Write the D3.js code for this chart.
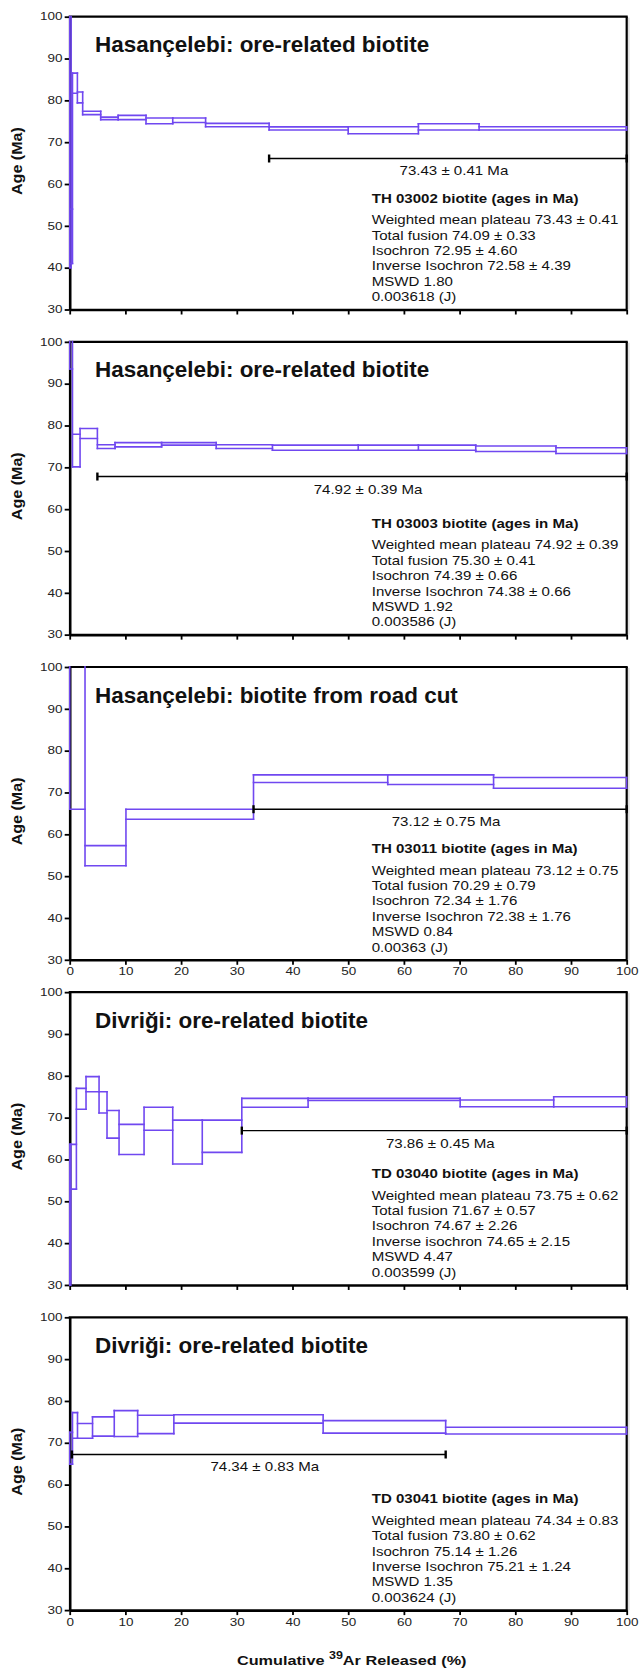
<!DOCTYPE html>
<html>
<head>
<meta charset="utf-8">
<script src="https://cdnjs.cloudflare.com/ajax/libs/d3/7.8.5/d3.min.js"></script>
<style>
  body { margin: 0; background: #fff; }
  svg { display: block; font-family: "Liberation Sans", Arial, sans-serif; }
</style>
</head>
<body>
<div id="chart"></div>
<script>
// tick values
const xTickValues = [0, 10, 20, 30, 40, 50, 60, 70, 80, 90, 100];
const yTickValues = [30, 40, 50, 60, 70, 80, 90, 100];

const titles = [
  "Hasançelebi: ore-related biotite",
  "Hasançelebi: ore-related biotite",
  "Hasançelebi: biotite from road cut",
  "Divriği: ore-related biotite",
  "Divriği: ore-related biotite"
];
const headers = [
  "TH 03002 biotite (ages in Ma)",
  "TH 03003 biotite (ages in Ma)",
  "TH 03011 biotite (ages in Ma)",
  "TD 03040 biotite (ages in Ma)",
  "TD 03041 biotite (ages in Ma)"
];
const statsTH03002 = ["Weighted mean plateau 73.43 ± 0.41", "Total fusion 74.09 ± 0.33", "Isochron 72.95 ± 4.60", "Inverse Isochron 72.58 ± 4.39", "MSWD 1.80", "0.003618 (J)"];
const statsTH03003 = ["Weighted mean plateau 74.92 ± 0.39", "Total fusion 75.30 ± 0.41", "Isochron 74.39 ± 0.66", "Inverse Isochron 74.38 ± 0.66", "MSWD 1.92", "0.003586 (J)"];
const statsTH03011 = ["Weighted mean plateau 73.12 ± 0.75", "Total fusion 70.29 ± 0.79", "Isochron 72.34 ± 1.76", "Inverse Isochron 72.38 ± 1.76", "MSWD 0.84", "0.00363 (J)"];
const statsTD03040 = ["Weighted mean plateau 73.75 ± 0.62", "Total fusion 71.67 ± 0.57", "Isochron 74.67 ± 2.26", "Inverse isochron 74.65 ± 2.15", "MSWD 4.47", "0.003599 (J)"];
const statsTD03041 = ["Weighted mean plateau 74.34 ± 0.83", "Total fusion 73.80 ± 0.62", "Isochron 75.14 ± 1.26", "Inverse Isochron 75.21 ± 1.24", "MSWD 1.35", "0.003624 (J)"];

const plateauLabels = ["73.43 ± 0.41 Ma", "74.92 ± 0.39 Ma", "73.12 ± 0.75 Ma", "73.86 ± 0.45 Ma", "74.34 ± 0.83 Ma"];
// [start %, end %, age drawn]
const plateauTH03002 = [35.8, 100, 66.1];
const plateauTH03003 = [4.97, 100, 67.8];
const plateauTH03011 = [33.0, 100, 66.0];
const plateauTD03040 = [30.9, 100, 66.9];
const plateauTD03041 = [0.4, 67.5, 67.2];

// steps: [cumulative 39Ar end %, age low, age high]
const stepsTH03002 = [[0.25, 40.0, 104], [0.5, 41.0, 54.0], [1.38, 81.7, 86.5], [2.33, 79.4, 82.0], [5.57, 76.6, 77.4],
  [8.7, 75.4, 76.0], [13.7, 75.4, 76.4], [18.5, 74.4, 75.8], [24.4, 74.7, 75.8], [35.8, 73.7, 74.5],
  [50.0, 72.9, 73.65], [62.6, 72.0, 73.7], [73.5, 72.9, 74.4], [100, 72.9, 73.7]];
const stepsTH03003 = [[0.5, 93.5, 106], [1.86, 70.1, 77.9], [4.97, 76.9, 79.3], [8.14, 74.5, 75.4], [16.5, 74.9, 75.9],
  [26.3, 75.3, 75.9], [36.4, 74.5, 75.4], [51.8, 74.1, 75.3], [62.6, 74.1, 75.3], [72.9, 74.1, 75.3],
  [87.3, 73.8, 75.1], [100, 73.3, 74.7]];
const stepsTH03011 = [[2.75, 66.0, 106], [10.1, 52.5, 57.3], [33.0, 63.6, 66.0], [57.1, 72.4, 74.2], [76.1, 71.9, 74.2], [100, 71.0, 73.6]];
const stepsTD03040 = [[0.2, 20, 63.6], [1.2, 52.9, 63.6], [2.93, 72.0, 77.0], [5.27, 76.2, 79.8], [6.7, 71.1, 76.2],
  [8.86, 65.1, 71.7], [13.35, 61.2, 68.4], [18.5, 67.0, 72.5], [23.8, 58.9, 69.4], [30.9, 61.7, 69.4],
  [42.8, 72.5, 74.6], [70.1, 74.1, 74.6], [86.9, 72.6, 74.2], [100, 72.6, 75.0]];
const stepsTD03041 = [[0.5, 64.9, 72.5], [1.4, 71.1, 77.2], [4.1, 71.1, 74.6], [8.0, 71.6, 76.2], [12.2, 71.5, 77.7],
  [18.7, 72.2, 76.6], [45.5, 74.7, 76.7], [67.5, 72.3, 75.3], [100, 72.1, 73.7]];

const panels = [
  { title: titles[0], header: headers[0], stats: statsTH03002, steps: stepsTH03002, plateau: plateauTH03002, label: plateauLabels[0], xLabels: false },
  { title: titles[1], header: headers[1], stats: statsTH03003, steps: stepsTH03003, plateau: plateauTH03003, label: plateauLabels[1], xLabels: false },
  { title: titles[2], header: headers[2], stats: statsTH03011, steps: stepsTH03011, plateau: plateauTH03011, label: plateauLabels[2], xLabels: true },
  { title: titles[3], header: headers[3], stats: statsTD03040, steps: stepsTD03040, plateau: plateauTD03040, label: plateauLabels[3], xLabels: false },
  { title: titles[4], header: headers[4], stats: statsTD03041, steps: stepsTD03041, plateau: plateauTD03041, label: plateauLabels[4], xLabels: true }
];

const width = 643, height = 1669;
const left = 69.7, pw = 557, ph = 292.8, top0 = 16.7, pitch = 325.15;
const purple = "#7048f0";

const svg = d3.select("#chart").append("svg")
  .attr("width", width)
  .attr("height", height);

const x = d3.scaleLinear().domain([0, 100]).range([0, pw]);
const y = d3.scaleLinear().domain([30, 100]).range([ph, 0]);

panels.forEach((p, i) => {
  const g = svg.append("g").attr("transform", `translate(${left},${top0 + i * pitch})`);

  // axes
  const xAxis = g.append("g")
    .attr("transform", `translate(0,${ph})`)
    .call(d3.axisBottom(x).tickValues(xTickValues).tickSize(5).tickSizeOuter(0)
      .tickFormat(p.xLabels ? d3.format("d") : ""));
  const yAxis = g.append("g")
    .call(d3.axisLeft(y).tickValues(yTickValues).tickSize(5).tickSizeOuter(0));

  [xAxis, yAxis].forEach(a => {
    a.select(".domain").attr("stroke-width", 2.6);
    a.selectAll(".tick line").attr("stroke-width", 1.8);
    a.selectAll(".tick text").attr("font-size", 10).attr("fill", "#222")
      .attr("font-family", "Liberation Sans, Arial, sans-serif");
  });
  xAxis.selectAll(".tick text").attr("y", 8.5).attr("transform", "scale(1.35,1)");
  yAxis.selectAll(".tick text").attr("x", -5.4).attr("transform", "scale(1.35,1)");

  // top + right frame
  g.append("line").attr("x1", -1).attr("x2", pw + 1).attr("y1", 0).attr("y2", 0)
    .attr("stroke", "#000").attr("stroke-width", 2.2);
  g.append("line").attr("x1", pw).attr("x2", pw).attr("y1", 0).attr("y2", ph)
    .attr("stroke", "#000").attr("stroke-width", 2.2);
  g.append("line").attr("x1", pw + 2.2).attr("x2", pw + 2.2).attr("y1", 1).attr("y2", ph)
    .attr("stroke", "#ccc").attr("stroke-width", 1);

  // age spectrum
  const segs = p.steps.map((s, j) => ({ x0: j ? p.steps[j - 1][0] : 0, x1: s[0], lo: s[1], hi: s[2] }));
  const bounds = d3.range(segs.length + 1).map(k => {
    const adj = [segs[k - 1], segs[k]].filter(Boolean);
    return { x: k ? segs[k - 1].x1 : 0, lo: d3.min(adj, d => d.lo), hi: d3.max(adj, d => d.hi) };
  });

  const clipId = "clip" + i;
  g.append("clipPath").attr("id", clipId).append("rect")
    .attr("x", -1).attr("y", -1).attr("width", pw + 2).attr("height", ph + 2);

  const sp = g.append("g").attr("clip-path", `url(#${clipId})`)
    .attr("stroke", purple).attr("stroke-width", 1.6).attr("fill", "none")
    .attr("stroke-linecap", "square");

  sp.selectAll(".hi").data(segs).join("line").attr("class", "hi")
    .attr("x1", d => x(d.x0)).attr("x2", d => x(d.x1))
    .attr("y1", d => y(d.hi)).attr("y2", d => y(d.hi));
  sp.selectAll(".lo").data(segs).join("line").attr("class", "lo")
    .attr("x1", d => x(d.x0)).attr("x2", d => x(d.x1))
    .attr("y1", d => y(d.lo)).attr("y2", d => y(d.lo));
  sp.selectAll(".edge").data(bounds).join("line").attr("class", "edge")
    .attr("x1", d => x(d.x)).attr("x2", d => x(d.x))
    .attr("y1", d => y(d.lo)).attr("y2", d => y(d.hi));

  // plateau bar
  const [p0, p1, pa] = p.plateau;
  g.append("line").attr("x1", x(p0)).attr("x2", x(p1)).attr("y1", y(pa)).attr("y2", y(pa))
    .attr("stroke", "#000").attr("stroke-width", 1.4);
  g.selectAll(".cap").data([p0, p1]).join("line").attr("class", "cap")
    .attr("x1", d => x(d)).attr("x2", d => x(d))
    .attr("y1", y(pa) - 4).attr("y2", y(pa) + 4)
    .attr("stroke", "#000").attr("stroke-width", 2.4);
  g.append("text")
    .attr("transform", `translate(${(x(p0) + x(p1)) / 2 + 6},${y(pa) + 17}) scale(1.16,1)`)
    .attr("text-anchor", "middle").attr("font-size", 13).attr("fill", "#111")
    .text(p.label);

  // title
  g.append("text")
    .attr("transform", "translate(25.3,35.5) scale(1.02,1)")
    .attr("font-size", 22).attr("font-weight", "bold").attr("fill", "#111")
    .text(p.title);

  // y label
  g.append("text")
    .attr("transform", `translate(-48,${ph / 2 - 2}) rotate(-90) scale(1.15,1)`)
    .attr("text-anchor", "middle").attr("font-size", 14).attr("font-weight", "bold").attr("fill", "#111")
    .text("Age (Ma)");

  // sample results
  g.append("text")
    .attr("transform", "translate(302,186) scale(1.16,1)")
    .attr("font-size", 13).attr("font-weight", "bold").attr("fill", "#111")
    .text(p.header);
  g.selectAll(".stat").data(p.stats).join("text").attr("class", "stat")
    .attr("transform", (d, k) => `translate(302,${207.5 + k * 15.4}) scale(1.16,1)`)
    .attr("font-size", 13).attr("fill", "#111")
    .text(d => d);
});

// x axis title
const xt = svg.append("text")
  .attr("transform", `translate(${left + 282},1665) scale(1.25,1)`)
  .attr("text-anchor", "middle").attr("font-size", 13).attr("font-weight", "bold").attr("fill", "#111");
xt.append("tspan").text("Cumulative ");
xt.append("tspan").attr("font-size", 10).attr("dy", -6.5).text("39");
xt.append("tspan").attr("dy", 6.5).text("Ar Released (%)");
</script>
</body>
</html>
